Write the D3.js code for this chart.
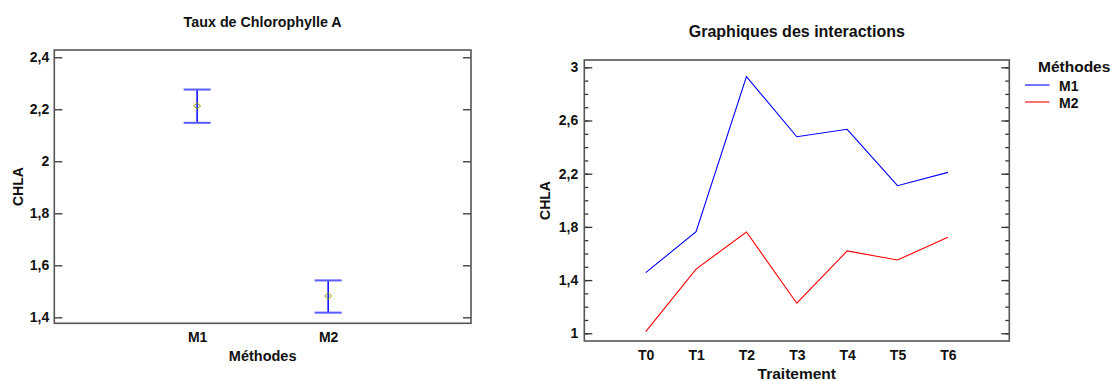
<!DOCTYPE html>
<html>
<head>
<meta charset="utf-8">
<script src="https://cdn.jsdelivr.net/npm/d3@7"></script>
<style>
  body { margin: 0; background: #fff; }
  svg { display: block; }
  text { font-family: "Liberation Sans", Arial, sans-serif; font-weight: bold; fill: #111; }
</style>
</head>
<body>
<svg width="1113" height="381"></svg>
<script>
// data
var methodes      = ["M1", "M2"] ;
var moyennes      = [2.213, 1.482] ;
var bas           = [2.148, 1.418] ;
var haut          = [2.276, 1.542] ;
var ticksGauche   = [1.4, 1.6, 1.8, 2, 2.2, 2.4] ;

var traitements   = ["T0", "T1", "T2", "T3", "T4", "T5", "T6"] ;
var serieM1       = [1.456, 1.764, 2.930, 2.478, 2.534, 2.110, 2.210] ;
var serieM2       = [1.012, 1.483, 1.762, 1.226, 1.619, 1.551, 1.722] ;
var ticksDroite   = [1, 1.4, 1.8, 2.2, 2.6, 3] ;
var couleurs      = ["#0000ff", "#ff0000"] ;

var svg = d3.select("svg") ;
var virgule = function(d){ return String(d).replace(".", ",") ; } ;

frame = function(x0, y0, x1, y1){
  svg.append("rect")
    .attr("x", x0).attr("y", y0)
    .attr("width", x1 - x0).attr("height", y1 - y0)
    .style("fill", "none").style("stroke", "#555").style("stroke-width", 1.6) ;
}

style_axis = function(g){
  g.select(".domain").remove() ;
  g.selectAll("line").style("stroke", "#333").style("stroke-width", 1.3) ;
  g.selectAll("text").style("font-size", "14px").style("fill", "#111")
    .style("font-family", "'Liberation Sans', Arial, sans-serif").style("font-weight", "bold") ;
}

// ---------- left chart : means ----------
var L = {x0: 54.3, x1: 471, y0: 50, y1: 323.3} ;
var xL = d3.scalePoint().domain(methodes).range([L.x0, L.x1]).padding(1.09) ;
var yL = d3.scaleLinear().domain([1.377, 2.428]).range([L.y1, L.y0]) ;

svg.append("g").attr("transform", "translate(" + L.x0 + ",0)")
  .call(d3.axisLeft(yL).tickValues(ticksGauche).tickSize(-8).tickPadding(5).tickFormat(virgule))
  .call(style_axis) ;
svg.append("g").attr("transform", "translate(" + L.x1 + ",0)")
  .call(d3.axisRight(yL).tickValues(ticksGauche).tickSize(-8).tickFormat(""))
  .call(style_axis) ;
svg.append("g").attr("transform", "translate(0," + L.y1 + ")")
  .call(d3.axisBottom(xL).tickSize(0).tickPadding(8.5))
  .call(style_axis) ;
frame(L.x0, L.y0, L.x1, L.y1) ;

// error bars
methodes.forEach(function(m, i){
  var cx = xL(m) ;
  svg.append("line")
    .attr("x1", cx).attr("x2", cx).attr("y1", yL(haut[i])).attr("y2", yL(bas[i]))
    .style("stroke", "#0000ff").style("stroke-width", 1.5) ;
  [haut[i], bas[i]].forEach(function(v){
    svg.append("line")
      .attr("x1", cx - 13.5).attr("x2", cx + 13.5).attr("y1", yL(v)).attr("y2", yL(v))
      .style("stroke", "#5a5aff").style("stroke-width", 2) ;
  }) ;
  // small diamond for the mean
  svg.append("path")
    .attr("transform", "translate(" + cx + "," + yL(moyennes[i]) + ")")
    .attr("d", "M-3.5,0 L0,-3 L3.5,0 L0,3 Z")
    .style("fill", "none").style("stroke", "#9a9a00").style("stroke-width", 1) ;
}) ;

svg.append("text").attr("x", (L.x0 + L.x1) / 2).attr("y", 27).attr("text-anchor", "middle")
  .style("font-size", "14.3px").text("Taux de Chlorophylle A") ;
svg.append("text").attr("x", (L.x0 + L.x1) / 2).attr("y", 361).attr("text-anchor", "middle")
  .style("font-size", "14.5px").text("Méthodes") ;
svg.append("text").attr("transform", "translate(22.5," + (L.y0 + L.y1) / 2 + ") rotate(-90)")
  .attr("text-anchor", "middle").style("font-size", "14px").text("CHLA") ;

// ---------- right chart : interactions ----------
var R = {x0: 584.3, x1: 1009.3, y0: 60, y1: 341} ;
var xR = d3.scalePoint().domain(traitements).range([R.x0, R.x1]).padding(1.22) ;
var yR = d3.scaleLinear().domain([0.942, 3.055]).range([R.y1, R.y0]) ;
var mineurs = d3.range(10, 31).map(function(d){ return d / 10 ; }) ;

[R.x0, R.x1].forEach(function(xpos, k){
  var ax = k == 0 ? d3.axisLeft(yR) : d3.axisRight(yR) ;
  svg.append("g").attr("transform", "translate(" + xpos + ",0)")
    .call(ax.tickValues(mineurs).tickSize(-4).tickFormat(""))
    .call(style_axis) ;
  var ax2 = k == 0 ? d3.axisLeft(yR) : d3.axisRight(yR) ;
  svg.append("g").attr("transform", "translate(" + xpos + ",0)")
    .call(ax2.tickValues(ticksDroite).tickSize(-8).tickPadding(6).tickFormat(k == 0 ? virgule : ""))
    .call(style_axis) ;
}) ;
svg.append("g").attr("transform", "translate(0," + R.y1 + ")")
  .call(d3.axisBottom(xR).tickSize(0).tickPadding(9))
  .call(style_axis) ;
frame(R.x0, R.y0, R.x1, R.y1) ;

var ligne = d3.line()
  .x(function(d, i){ return xR(traitements[i]) ; })
  .y(function(d){ return yR(d) ; }) ;

[serieM1, serieM2].forEach(function(s, i){
  svg.append("path").datum(s).attr("d", ligne)
    .style("fill", "none").style("stroke", couleurs[i]).style("stroke-width", 1.1) ;
}) ;

svg.append("text").attr("x", (R.x0 + R.x1) / 2).attr("y", 36.5).attr("text-anchor", "middle")
  .style("font-size", "16px").text("Graphiques des interactions") ;
svg.append("text").attr("x", (R.x0 + R.x1) / 2).attr("y", 379).attr("text-anchor", "middle")
  .style("font-size", "15.5px").text("Traitement") ;
svg.append("text").attr("transform", "translate(550," + (R.y0 + R.y1) / 2 + ") rotate(-90)")
  .attr("text-anchor", "middle").style("font-size", "14px").text("CHLA") ;

// legend
svg.append("text").attr("x", 1038).attr("y", 72.3).style("font-size", "15.5px").text("Méthodes") ;
methodes.forEach(function(m, i){
  var yy = 85 + i * 17 ;
  svg.append("line").attr("x1", 1025).attr("x2", 1049.5).attr("y1", yy).attr("y2", yy)
    .style("stroke", couleurs[i]).style("stroke-width", 1.1) ;
  svg.append("text").attr("x", 1059).attr("y", yy + 5.5).style("font-size", "14px").text(m) ;
}) ;
</script>
</body>
</html>
